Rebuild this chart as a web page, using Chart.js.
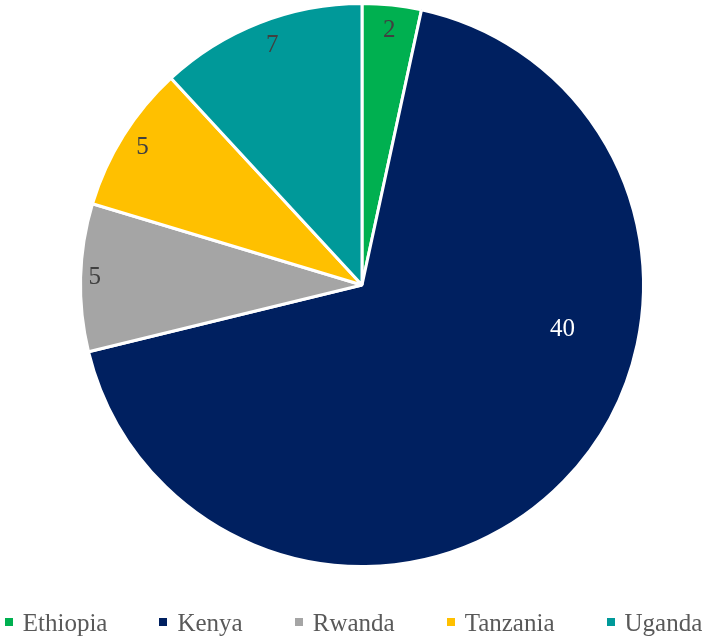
<!DOCTYPE html>
<html><head><meta charset="utf-8">
<script src="https://cdn.jsdelivr.net/npm/chart.js@4"></script>
<style>
html,body{margin:0;padding:0;background:#fff}
#wrap{position:relative;width:707px;height:639px}
#legend{position:absolute;left:0;top:607px;width:707px;height:32px;display:flex;justify-content:center;align-items:center;gap:52px;
  font-family:"Liberation Serif","DejaVu Serif",serif;font-size:25px;color:#595959;white-space:nowrap}
#legend .item{display:flex;align-items:center}
#legend .box{width:8px;height:8px;margin-right:10px;margin-top:-2px}
</style>
</head><body><div id="wrap"><canvas id="c" width="707" height="639"></canvas><div id="legend"></div></div>
<script>
const categories = ["Ethiopia", "Kenya", "Rwanda", "Tanzania", "Uganda"];
const values = [2, 40, 5, 5, 7];
const colors = ["#00B050", "#002060", "#A5A5A5", "#FFC000", "#009999"];
const labelColors = ["#404040", "#FFFFFF", "#404040", "#404040", "#404040"];
// label placement within slice: [angle fraction, radius fraction]
const labelPlace = [[0.5, 0.91], [0.37, 0.73], [0.5, 0.95], [0.5, 0.92], [0.52, 0.91]];

const labelPlugin = {
  id: 'sliceLabels',
  afterDatasetsDraw(chart) {
    const ctx = chart.ctx;
    const meta = chart.getDatasetMeta(0);
    ctx.save();
    ctx.font = '25px "Liberation Serif", "DejaVu Serif", serif';
    ctx.textAlign = 'center';
    ctx.textBaseline = 'middle';
    meta.data.forEach((arc, i) => {
      const p = arc.getProps(['x','y','startAngle','endAngle','outerRadius']);
      const [af, rf] = labelPlace[i];
      const a = p.startAngle + (p.endAngle - p.startAngle) * af;
      const r = p.outerRadius * rf;
      ctx.fillStyle = labelColors[i];
      ctx.fillText(String(values[i]), p.x + Math.cos(a) * r, p.y + Math.sin(a) * r);
    });
    ctx.restore();
  }
};

const chart = new Chart(document.getElementById('c'), {
  type: 'pie',
  data: {
    labels: categories,
    datasets: [{ data: values, backgroundColor: colors, borderColor: '#FFFFFF', borderWidth: 3 }]
  },
  options: {
    responsive: false,
    animation: false,
    layout: { padding: { left: 17, top: 2, right: 0, bottom: 71 } },
    plugins: {
      tooltip: { enabled: false },
      legend: { display: false }
    }
  },
  plugins: [labelPlugin]
});

// HTML legend built from the chart's own labels and colours
const legendEl = document.getElementById('legend');
chart.data.labels.forEach((lab, i) => {
  const item = document.createElement('div');
  item.className = 'item';
  const box = document.createElement('span');
  box.className = 'box';
  box.style.background = chart.data.datasets[0].backgroundColor[i];
  const txt = document.createElement('span');
  txt.textContent = lab;
  item.appendChild(box); item.appendChild(txt);
  legendEl.appendChild(item);
});
</script></body></html>
